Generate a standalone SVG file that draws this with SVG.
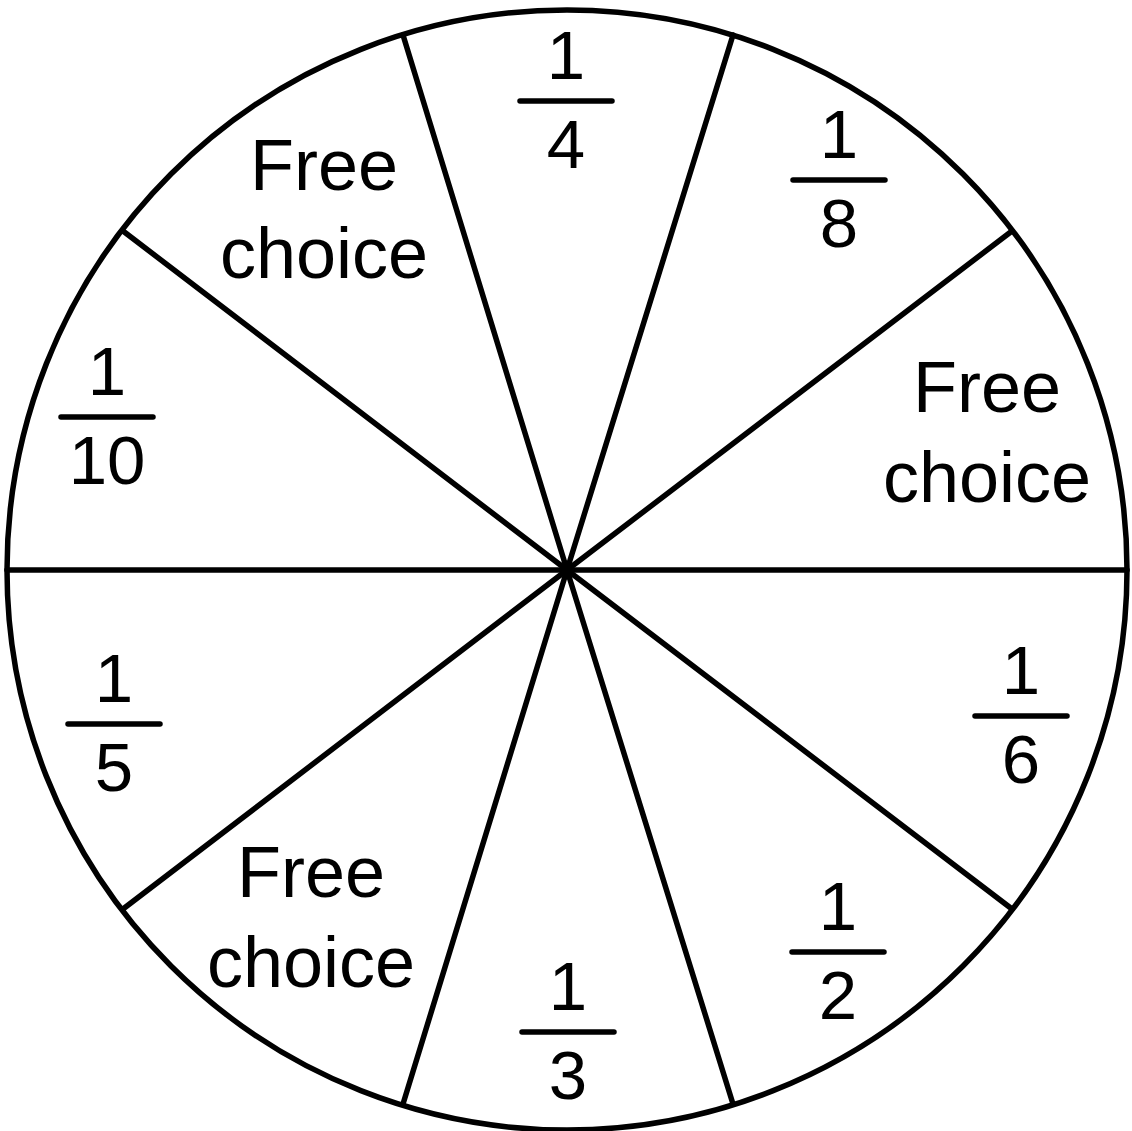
<svg xmlns="http://www.w3.org/2000/svg" width="1132" height="1131" viewBox="0 0 1132 1131">
<style>
.ln{stroke:#000;stroke-width:5.5;fill:none;stroke-linecap:round}
.bar{stroke:#000;stroke-width:5.5;stroke-linecap:round}
.t{font-family:"Liberation Sans",Arial,sans-serif;font-size:72px;fill:#000;text-anchor:middle}
.d{font-family:"Liberation Sans",Arial,sans-serif;font-size:69px;fill:#000;text-anchor:middle}
</style>
<rect width="1132" height="1131" fill="#fff"/>
<g id="connectors">
<circle class="ln" cx="567" cy="570" r="560"/>
<line class="ln" x1="567" y1="570" x2="403" y2="35"/>
<line class="ln" x1="567" y1="570" x2="733" y2="35"/>
<line class="ln" x1="567" y1="570" x2="1012" y2="231"/>
<line class="ln" x1="567" y1="570" x2="1127" y2="570"/>
<line class="ln" x1="567" y1="570" x2="1012" y2="909"/>
<line class="ln" x1="567" y1="570" x2="733" y2="1104"/>
<line class="ln" x1="567" y1="570" x2="403" y2="1104"/>
<line class="ln" x1="567" y1="570" x2="123" y2="909"/>
<line class="ln" x1="567" y1="570" x2="7" y2="570"/>
<line class="ln" x1="567" y1="570" x2="123" y2="231"/>
</g>
<g id="s-quarter">
<text class="d" x="566" y="79">1</text>
<line class="bar" x1="520" y1="101" x2="612" y2="101"/>
<text class="d" x="566" y="168">4</text>
</g>
<g id="s-eighth">
<text class="d" x="839" y="158">1</text>
<line class="bar" x1="793" y1="180" x2="885" y2="180"/>
<text class="d" x="839" y="247">8</text>
</g>
<g id="s-free-right">
<text class="t" x="987" y="412">Free</text>
<text class="t" x="987" y="502">choice</text>
</g>
<g id="s-sixth">
<text class="d" x="1021" y="694">1</text>
<line class="bar" x1="975" y1="716" x2="1067" y2="716"/>
<text class="d" x="1021" y="783">6</text>
</g>
<g id="s-half">
<text class="d" x="838" y="930">1</text>
<line class="bar" x1="792" y1="952" x2="884" y2="952"/>
<text class="d" x="838" y="1019">2</text>
</g>
<g id="s-third">
<text class="d" x="568" y="1010">1</text>
<line class="bar" x1="522" y1="1032" x2="614" y2="1032"/>
<text class="d" x="568" y="1099">3</text>
</g>
<g id="s-free-bottom">
<text class="t" x="311" y="897">Free</text>
<text class="t" x="311" y="987">choice</text>
</g>
<g id="s-fifth">
<text class="d" x="114" y="702">1</text>
<line class="bar" x1="68" y1="724" x2="160" y2="724"/>
<text class="d" x="114" y="791">5</text>
</g>
<g id="s-tenth">
<text class="d" x="107" y="395">1</text>
<line class="bar" x1="61" y1="417" x2="153" y2="417"/>
<text class="d" x="107" y="484">10</text>
</g>
<g id="s-free-top">
<text class="t" x="324" y="190">Free</text>
<text class="t" x="324" y="278">choice</text>
</g>
</svg>
